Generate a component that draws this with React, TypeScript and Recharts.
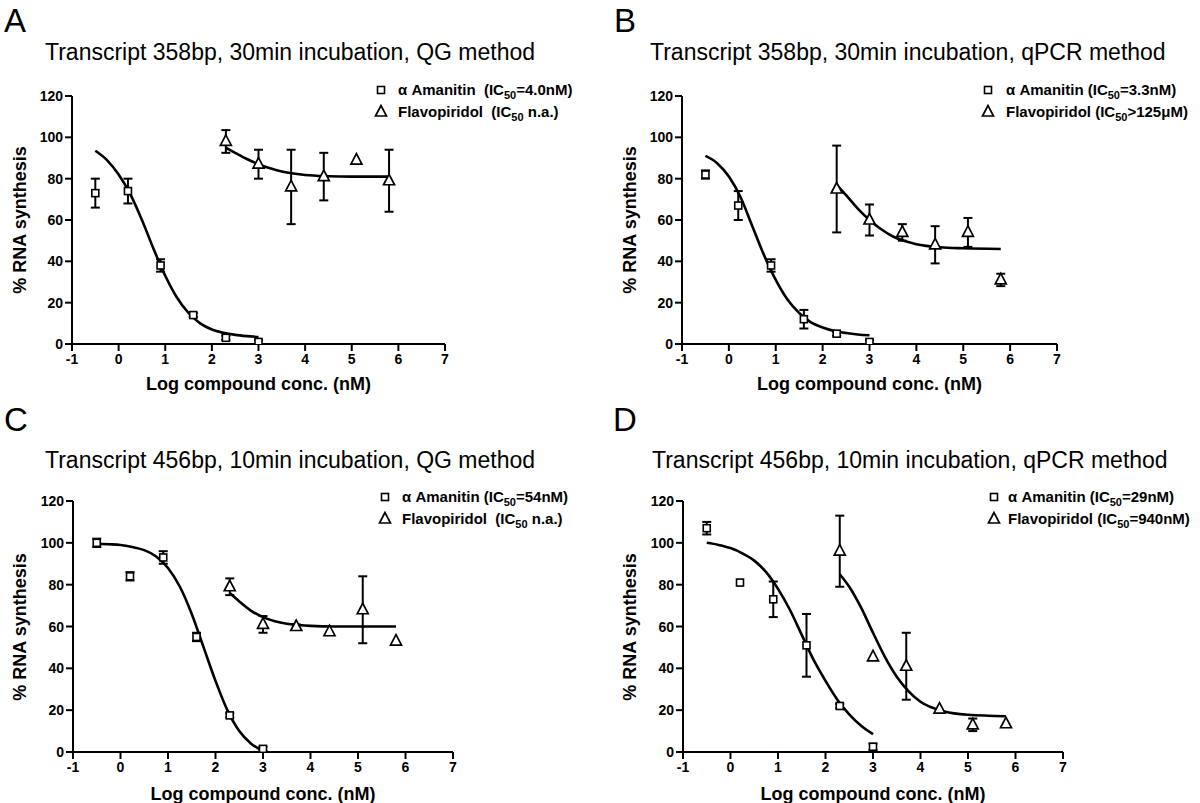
import React from "react";
import { ComposedChart, Line, Scatter, XAxis, YAxis, ErrorBar } from "recharts";

const FONT = '"Liberation Sans", Arial, Helvetica, sans-serif';

// shared x positions (log nM)
const amanitinX = [-0.5, 0.2, 0.9, 1.6, 2.3, 3.0];
const flavoX = [2.3, 3.0, 3.7, 4.4, 5.1, 5.8];
const amanitinCurveX = [-0.5, -0.25, 0, 0.25, 0.5, 0.75, 1, 1.25, 1.5, 1.75, 2, 2.25, 2.5, 2.75, 3];
const flavoCurveX = [2.3, 2.5, 2.75, 3, 3.25, 3.5, 3.75, 4, 4.5, 5, 5.8];
const xTicks = [-1, 0, 1, 2, 3, 4, 5, 6, 7];
const yTicks = [0, 20, 40, 60, 80, 100, 120];

// A: 358bp, 30min, QG
const amanitinA = [73, 74, 38, 14, 3, 1];
const amanitinSemA = [7, 6, 3, 1, 1, 1];
const flavoA = [98, 87, 76, 81, 89, 79];
const flavoSemA = [5.5, 7, 18, 11.5, 0, 15];
const amanitinFitA = [93.5, 89, 82, 72.5, 60, 46, 33, 22.5, 15, 10, 7, 5.4, 4.4, 3.8, 3.4];
const flavoFitA = [95, 92.5, 89.5, 87, 85, 83.5, 82.5, 81.8, 81.2, 81, 81];

// B: 358bp, 30min, qPCR
const amanitinB = [82, 67, 38, 12, 5, 1];
const amanitinSemB = [2, 7, 3, 4.5, 1, 1];
const flavoB = [75, 60, 54, 48, 54, 31];
const flavoSemB = [21, 7.5, 4, 9, 7, 3];
const amanitinFitB = [91, 87.5, 81, 71, 57, 43, 31, 21.5, 15, 10.5, 8, 6.3, 5.3, 4.6, 4.2];
const flavoFitB = [77, 72, 65.5, 60, 55.5, 52, 49.8, 48.3, 46.8, 46.3, 46];

// C: 456bp, 10min, QG
const amanitinC = [100, 84, 93, 55, 17.5, 1.5];
const amanitinSemC = [2, 2, 3, 2, 1, 1];
const flavoC = [79, 61, 60, 57.5, 68, 53];
const flavoSemC = [4, 4, 1, 0, 16, 0];
const amanitinFitC = [99.5, 99.3, 99, 98, 96.5, 93.5, 88, 79, 66, 50, 34, 20, 10, 4, 0.5];
const flavoFitC = [76, 72, 67.5, 64.5, 62.5, 61.3, 60.7, 60.3, 60, 60, 60];

// D: 456bp, 10min, qPCR
const amanitinD = [107, 81, 73, 51, 22, 2.5];
const amanitinSemD = [3, 0, 8.5, 15, 1, 1.5];
const flavoD = [96, 45.5, 41, 20.5, 13, 13.5];
const flavoSemD = [17, 0, 16, 0, 3, 0];
const amanitinFitD = [100, 99, 97.5, 95, 91.5, 86, 78, 68, 56, 44, 34, 25, 18, 12.5, 8.5];
const flavoFitD = [85, 79, 69, 57, 45.5, 36, 29, 24, 19.4, 17.8, 17.1];

const titles = [
  "Transcript 358bp, 30min incubation, QG method",
  "Transcript 358bp, 30min incubation, qPCR method",
  "Transcript 456bp, 10min incubation, QG method",
  "Transcript 456bp, 10min incubation, qPCR method",
];
const letters = ["A", "B", "C", "D"];
const amanitinLegends = [
  ["α Amanitin  (IC", "=4.0nM)"],
  ["α Amanitin (IC", "=3.3nM)"],
  ["α Amanitin (IC", "=54nM)"],
  ["α Amanitin (IC", "=29nM)"],
];
const flavoLegends = [
  ["Flavopiridol  (IC", " n.a.)"],
  ["Flavopiridol (IC", ">125μM)"],
  ["Flavopiridol  (IC", " n.a.)"],
  ["Flavopiridol (IC", "=940nM)"],
];

const pts = (xs: number[], ys: number[], sem: number[]) =>
  xs.map((x, i) => ({ x, y: ys[i], err: sem[i] }));
const fit = (xs: number[], ys: number[]) => xs.map((x, i) => ({ x, y: ys[i] }));

const series = [
  { am: pts(amanitinX, amanitinA, amanitinSemA), fl: pts(flavoX, flavoA, flavoSemA), amFit: fit(amanitinCurveX, amanitinFitA), flFit: fit(flavoCurveX, flavoFitA) },
  { am: pts(amanitinX, amanitinB, amanitinSemB), fl: pts(flavoX, flavoB, flavoSemB), amFit: fit(amanitinCurveX, amanitinFitB), flFit: fit(flavoCurveX, flavoFitB) },
  { am: pts(amanitinX, amanitinC, amanitinSemC), fl: pts(flavoX, flavoC, flavoSemC), amFit: fit(amanitinCurveX, amanitinFitC), flFit: fit(flavoCurveX, flavoFitC) },
  { am: pts(amanitinX, amanitinD, amanitinSemD), fl: pts(flavoX, flavoD, flavoSemD), amFit: fit(amanitinCurveX, amanitinFitD), flFit: fit(flavoCurveX, flavoFitD) },
];

// panel placement
const layout = [
  { left: 0, top: 0, margin: { top: 96, right: 155, bottom: 26, left: 12 }, plotL: 72, plotR: 445, titleX: 45, titleY: 60, letterX: 4, letterY: 32, legX: 381, legTextX: 398, legY: 95, yLabX: 20, yLabY: 220, xLabY: 390 },
  { left: 600, top: 0, margin: { top: 96, right: 143, bottom: 26, left: 22 }, plotL: 682, plotR: 1057, titleX: 650, titleY: 60, letterX: 614, letterY: 32, legX: 988, legTextX: 1006, legY: 95, yLabX: 630, yLabY: 220, xLabY: 390 },
  { left: 0, top: 400, margin: { top: 101, right: 147, bottom: 18, left: 13 }, plotL: 73, plotR: 453, titleX: 45, titleY: 468, letterX: 4, letterY: 431, legX: 385, legTextX: 402, legY: 502, yLabX: 20, yLabY: 627, xLabY: 800 },
  { left: 600, top: 400, margin: { top: 101, right: 137, bottom: 18, left: 23 }, plotL: 683, plotR: 1063, titleX: 652, titleY: 468, letterX: 613, letterY: 431, legX: 994, legTextX: 1008, legY: 502, yLabX: 630, yLabY: 627, xLabY: 800 },
];

const Square = (props: any) => {
  const { cx, cy } = props;
  return <rect x={cx - 3.5} y={cy - 3.5} width={7} height={7} fill="#fff" stroke="#000" strokeWidth={1.6} />;
};

const Triangle = (props: any) => {
  const { cx, cy } = props;
  return (
    <polygon
      points={`${cx},${cy - 6.5} ${cx - 5.5},${cy + 4} ${cx + 5.5},${cy + 4}`}
      fill="#fff"
      stroke="#000"
      strokeWidth={1.7}
      strokeLinejoin="miter"
    />
  );
};

const XTick = (props: any) => {
  const { x, y, payload } = props;
  return (
    <text x={x} y={y} dy={10} textAnchor="middle" fontSize={14} fontWeight={700} fill="#000" fontFamily={FONT}>
      {payload.value}
    </text>
  );
};

const YTick = (props: any) => {
  const { x, y, payload } = props;
  return (
    <text x={x} y={y} dy={5} textAnchor="end" fontSize={14} fontWeight={700} fill="#000" fontFamily={FONT}>
      {payload.value}
    </text>
  );
};

const axisStroke = { stroke: "#000", strokeWidth: 2 };

function Panel({ i }: { i: number }) {
  const l = layout[i];
  const s = series[i];
  return (
    <div style={{ position: "absolute", left: l.left, top: l.top }}>
      <ComposedChart width={600} height={400} margin={l.margin} style={{ fontFamily: FONT }}>
        <XAxis
          type="number"
          dataKey="x"
          domain={[-1, 7]}
          ticks={xTicks}
          interval={0}
          allowDataOverflow
          height={30}
          tickSize={7}
          tickMargin={3}
          tick={XTick}
          axisLine={axisStroke}
          tickLine={axisStroke}
        />
        <YAxis
          type="number"
          dataKey="y"
          domain={[0, 120]}
          ticks={yTicks}
          interval={0}
          allowDataOverflow
          width={60}
          tickSize={7}
          tickMargin={2}
          tick={YTick}
          axisLine={axisStroke}
          tickLine={axisStroke}
        />
        <Line data={s.amFit} dataKey="y" type="monotone" dot={false} activeDot={false} stroke="#000" strokeWidth={2.6} isAnimationActive={false} />
        <Line data={s.flFit} dataKey="y" type="monotone" dot={false} activeDot={false} stroke="#000" strokeWidth={2.6} isAnimationActive={false} />
        <Scatter data={s.am} dataKey="y" shape={Square} isAnimationActive={false}>
          <ErrorBar dataKey="err" direction="y" width={4.5} stroke="#000" strokeWidth={2} />
        </Scatter>
        <Scatter data={s.fl} dataKey="y" shape={Triangle} isAnimationActive={false}>
          <ErrorBar dataKey="err" direction="y" width={4.5} stroke="#000" strokeWidth={2} />
        </Scatter>
      </ComposedChart>
    </div>
  );
}

function Overlay() {
  return (
    <svg
      width={1200}
      height={803}
      style={{ position: "absolute", left: 0, top: 0, pointerEvents: "none", fontFamily: FONT }}
    >
      {layout.map((l, i) => (
        <g key={i}>
          <text x={l.letterX} y={l.letterY} fontSize={33} fill="#000">
            {letters[i]}
          </text>
          <text x={l.titleX} y={l.titleY} fontSize={23} fill="#000">
            {titles[i]}
          </text>
          <Square cx={l.legX} cy={l.legY - 5} />
          <Triangle cx={l.legX} cy={l.legY + 17} />
          <text x={l.legTextX} y={l.legY} fontSize={15} fontWeight={700} fill="#000" xmlSpace="preserve">
            {amanitinLegends[i][0]}
            <tspan fontSize={11} dy={4}>50</tspan>
            <tspan dy={-4}>{amanitinLegends[i][1]}</tspan>
          </text>
          <text x={l.legTextX} y={l.legY + 22} fontSize={15} fontWeight={700} fill="#000" xmlSpace="preserve">
            {flavoLegends[i][0]}
            <tspan fontSize={11} dy={4}>50</tspan>
            <tspan dy={-4}>{flavoLegends[i][1]}</tspan>
          </text>
          <text
            x={l.yLabX}
            y={l.yLabY}
            fontSize={18}
            fontWeight={700}
            fill="#000"
            textAnchor="middle"
            dominantBaseline="central"
            transform={`rotate(-90 ${l.yLabX} ${l.yLabY})`}
          >
            % RNA synthesis
          </text>
          <text x={(l.plotL + l.plotR) / 2} y={l.xLabY} fontSize={18} fontWeight={700} fill="#000" textAnchor="middle">
            Log compound conc. (nM)
          </text>
        </g>
      ))}
    </svg>
  );
}

export default function App() {
  return (
    <div style={{ position: "absolute", left: 0, top: 0, width: 1200, height: 803, background: "#fff" }}>
      {[0, 1, 2, 3].map((i) => (
        <Panel key={i} i={i} />
      ))}
      <Overlay />
    </div>
  );
}
